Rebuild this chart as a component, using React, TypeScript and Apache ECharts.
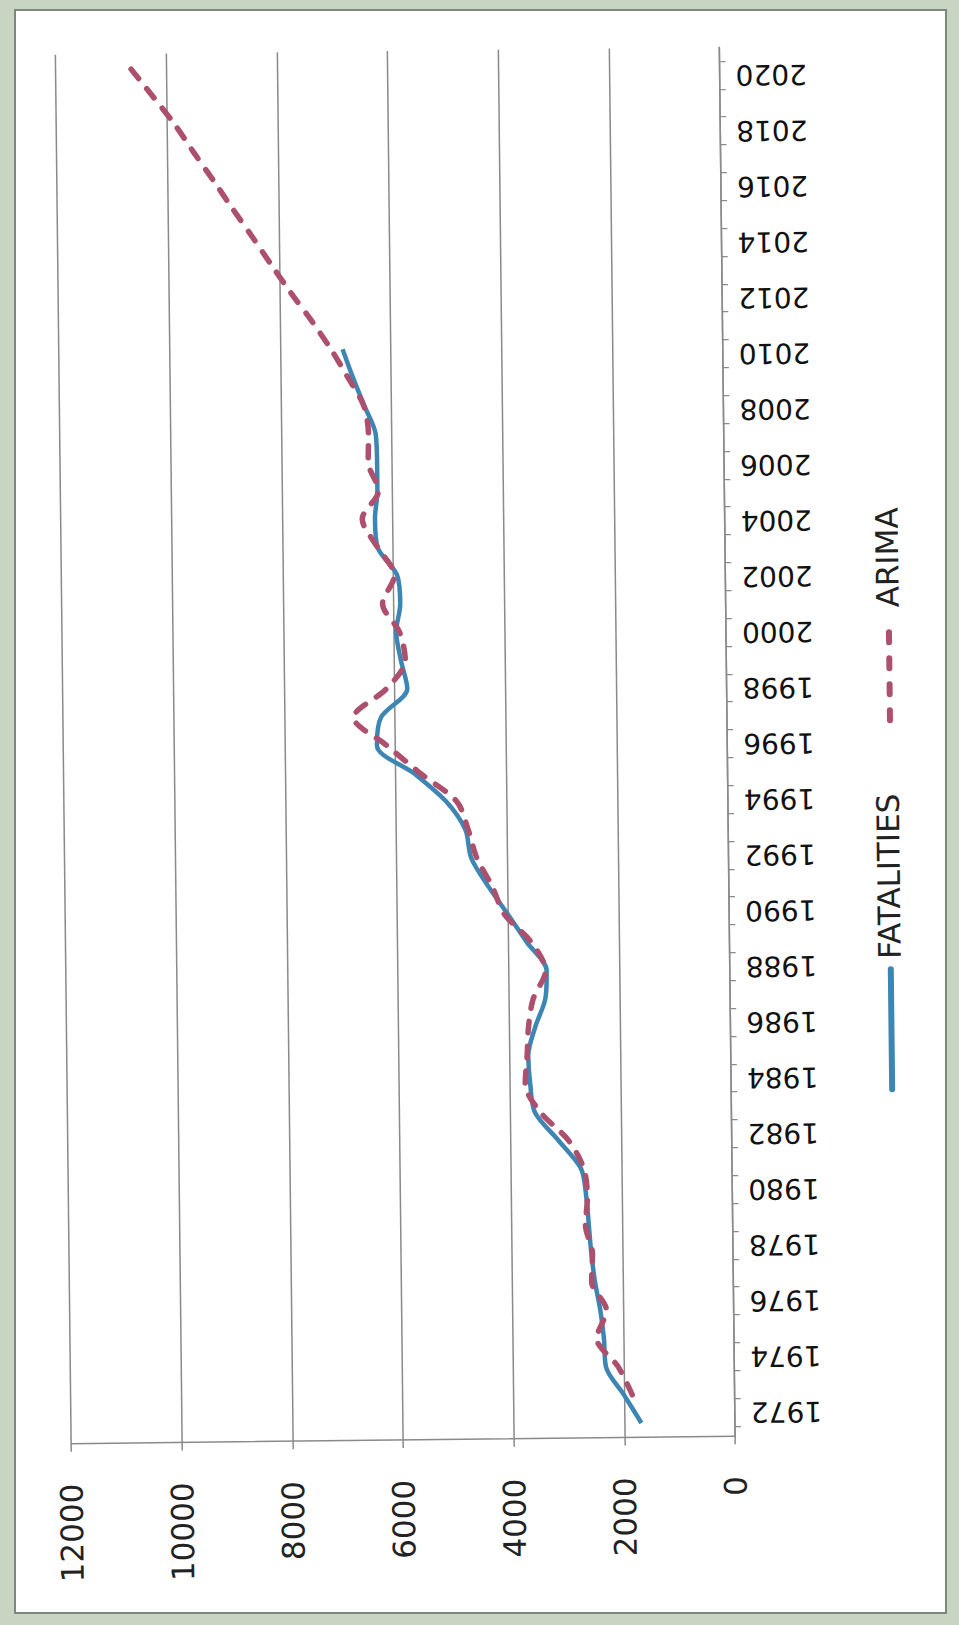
import React, { useEffect, useRef } from "react";
import * as echarts from "echarts";

const years = [
  "1972", "1973", "1974", "1975", "1976", "1977", "1978", "1979", "1980", "1981",
  "1982", "1983", "1984", "1985", "1986", "1987", "1988", "1989", "1990", "1991",
  "1992", "1993", "1994", "1995", "1996", "1997", "1998", "1999", "2000", "2001",
  "2002", "2003", "2004", "2005", "2006", "2007", "2008", "2009", "2010", "2011",
  "2012", "2013", "2014", "2015", "2016", "2017", "2018", "2019", "2020",
];

const fatalities = [
  1690, 2000, 2320, 2350, 2410, 2500, 2560, 2600, 2640, 2730,
  3130, 3550, 3630, 3660, 3530, 3340, 3310, 3660, 4000, 4350,
  4650, 4750, 5090, 5660, 6330, 6250, 5770, 5880, 5960, 5880,
  5930, 6280, 6320, 6270, 6270, 6290, 6490, 6690, 6870, null,
  null, null, null, null, null, null, null, null, null,
];

const arima = [
  null, 1850, 2100, 2480, 2300, 2560, 2540, 2660, 2620, 2680,
  2950, 3450, 3720, 3680, 3650, 3560, 3330, 3580, 4060, 4280,
  4550, 4700, 4900, 5550, 6150, 6750, 6150, 5800, 5900, 6200,
  5980, 6280, 6550, 6250, 6430, 6420, 6500, 6780, 7080, 7420,
  7790, 8140, 8480, 8830, 9170, 9520, 9860, 10250, 10650,
];

const seriesNames = ["FATALITIES", "ARIMA"];
const seriesColors = ["#3d86b4", "#ad506e"];

export default function App() {
  const ref = useRef<HTMLDivElement>(null);

  useEffect(() => {
    if (!ref.current) return;
    const chart = echarts.init(ref.current, null, { renderer: "svg" });
    const grey = "#8a8a8a";
    chart.setOption({
      animation: false,
      grid: [
        { left: 64, right: 231, top: 50, bottom: 186, containLabel: false },
        { left: 64, right: 231, top: 64, bottom: 196, containLabel: false },
      ],
      xAxis: [
        {
          type: "value",
          gridIndex: 0,
          inverse: true,
          min: 0,
          max: 12000,
          interval: 2000,
          position: "bottom",
          axisLine: { show: true, lineStyle: { color: grey, width: 1.5 } },
          axisTick: { show: true, length: 8, lineStyle: { color: grey, width: 1.5 } },
          axisLabel: {
            rotate: 90,
            margin: 40,
            fontFamily: "DejaVu Sans",
            fontSize: 31,
            color: "#222",
            formatter: (v: number) => String(v),
          },
          splitLine: { show: true, lineStyle: { color: grey, width: 1.5 } },
        },
        {
          type: "value",
          gridIndex: 1,
          inverse: true,
          min: 0,
          max: 12000,
          interval: 2000,
          show: false,
        },
      ],
      yAxis: [
        {
          type: "category",
          gridIndex: 0,
          data: years,
          position: "right",
          boundaryGap: true,
          axisLine: { show: true, onZero: false, lineStyle: { color: grey, width: 1.5 } },
          axisTick: { show: false },
          axisLabel: { show: false },
          splitLine: { show: false },
        },
        {
          type: "category",
          gridIndex: 1,
          data: years,
          position: "right",
          boundaryGap: true,
          axisLine: { show: false, onZero: false },
          axisTick: { show: true, interval: 0, length: 6, lineStyle: { color: grey, width: 1.2 } },
          axisLabel: {
            interval: 1,
            rotate: 180,
            margin: 16,
            fontFamily: "DejaVu Sans",
            fontSize: 28,
            color: "#111",
          },
          splitLine: { show: false },
        },
      ],
      series: [
        {
          name: seriesNames[0],
          type: "line",
          xAxisIndex: 0,
          yAxisIndex: 0,
          data: fatalities,
          smooth: 0.3,
          symbol: "none",
          connectNulls: false,
          lineStyle: { color: seriesColors[0], width: 4.5 },
          z: 3,
        },
        {
          name: seriesNames[1],
          type: "line",
          xAxisIndex: 0,
          yAxisIndex: 0,
          data: arima,
          smooth: 0.3,
          symbol: "none",
          connectNulls: false,
          lineStyle: { color: seriesColors[1], width: 5.5, type: [12, 13], cap: "round" },
          z: 4,
        },
      ],
      graphic: [
        {
          type: "line",
          shape: { x1: 889, y1: 974, x2: 889, y2: 1094 },
          style: { stroke: seriesColors[0], lineWidth: 6, lineCap: "round" },
        },
        {
          type: "text",
          x: 888,
          y: 881,
          rotation: Math.PI / 2,
          style: {
            text: seriesNames[0],
            fontFamily: "DejaVu Sans",
            fontSize: 31,
            fill: "#222",
            textAlign: "center",
            textVerticalAlign: "middle",
          },
        },
        {
          type: "line",
          shape: { x1: 891, y1: 637, x2: 891, y2: 741 },
          style: { stroke: seriesColors[1], lineWidth: 6, lineCap: "round", lineDash: [10, 16] },
        },
        {
          type: "text",
          x: 890,
          y: 562,
          rotation: Math.PI / 2,
          style: {
            text: seriesNames[1],
            fontFamily: "DejaVu Sans",
            fontSize: 31,
            fill: "#222",
            textAlign: "center",
            textVerticalAlign: "middle",
          },
        },
      ],
    });
    return () => chart.dispose();
  }, []);

  return (
    <div
      style={{
        position: "absolute",
        left: 0,
        top: 0,
        width: 959,
        height: 1625,
        background: "#c8d5c3",
        overflow: "hidden",
      }}
    >
      <div
        style={{
          position: "absolute",
          left: 14,
          top: 9,
          width: 933,
          height: 1605,
          background: "#ffffff",
          border: "2px solid #7d877e",
          boxSizing: "border-box",
        }}
      />
      <div
        style={{
          position: "absolute",
          left: 0,
          top: 0,
          width: 959,
          height: 1625,
          transform: "rotate(-0.65deg)",
          transformOrigin: "50% 50%",
        }}
      >
        <div ref={ref} style={{ width: 959, height: 1625 }} />
      </div>
    </div>
  );
}
